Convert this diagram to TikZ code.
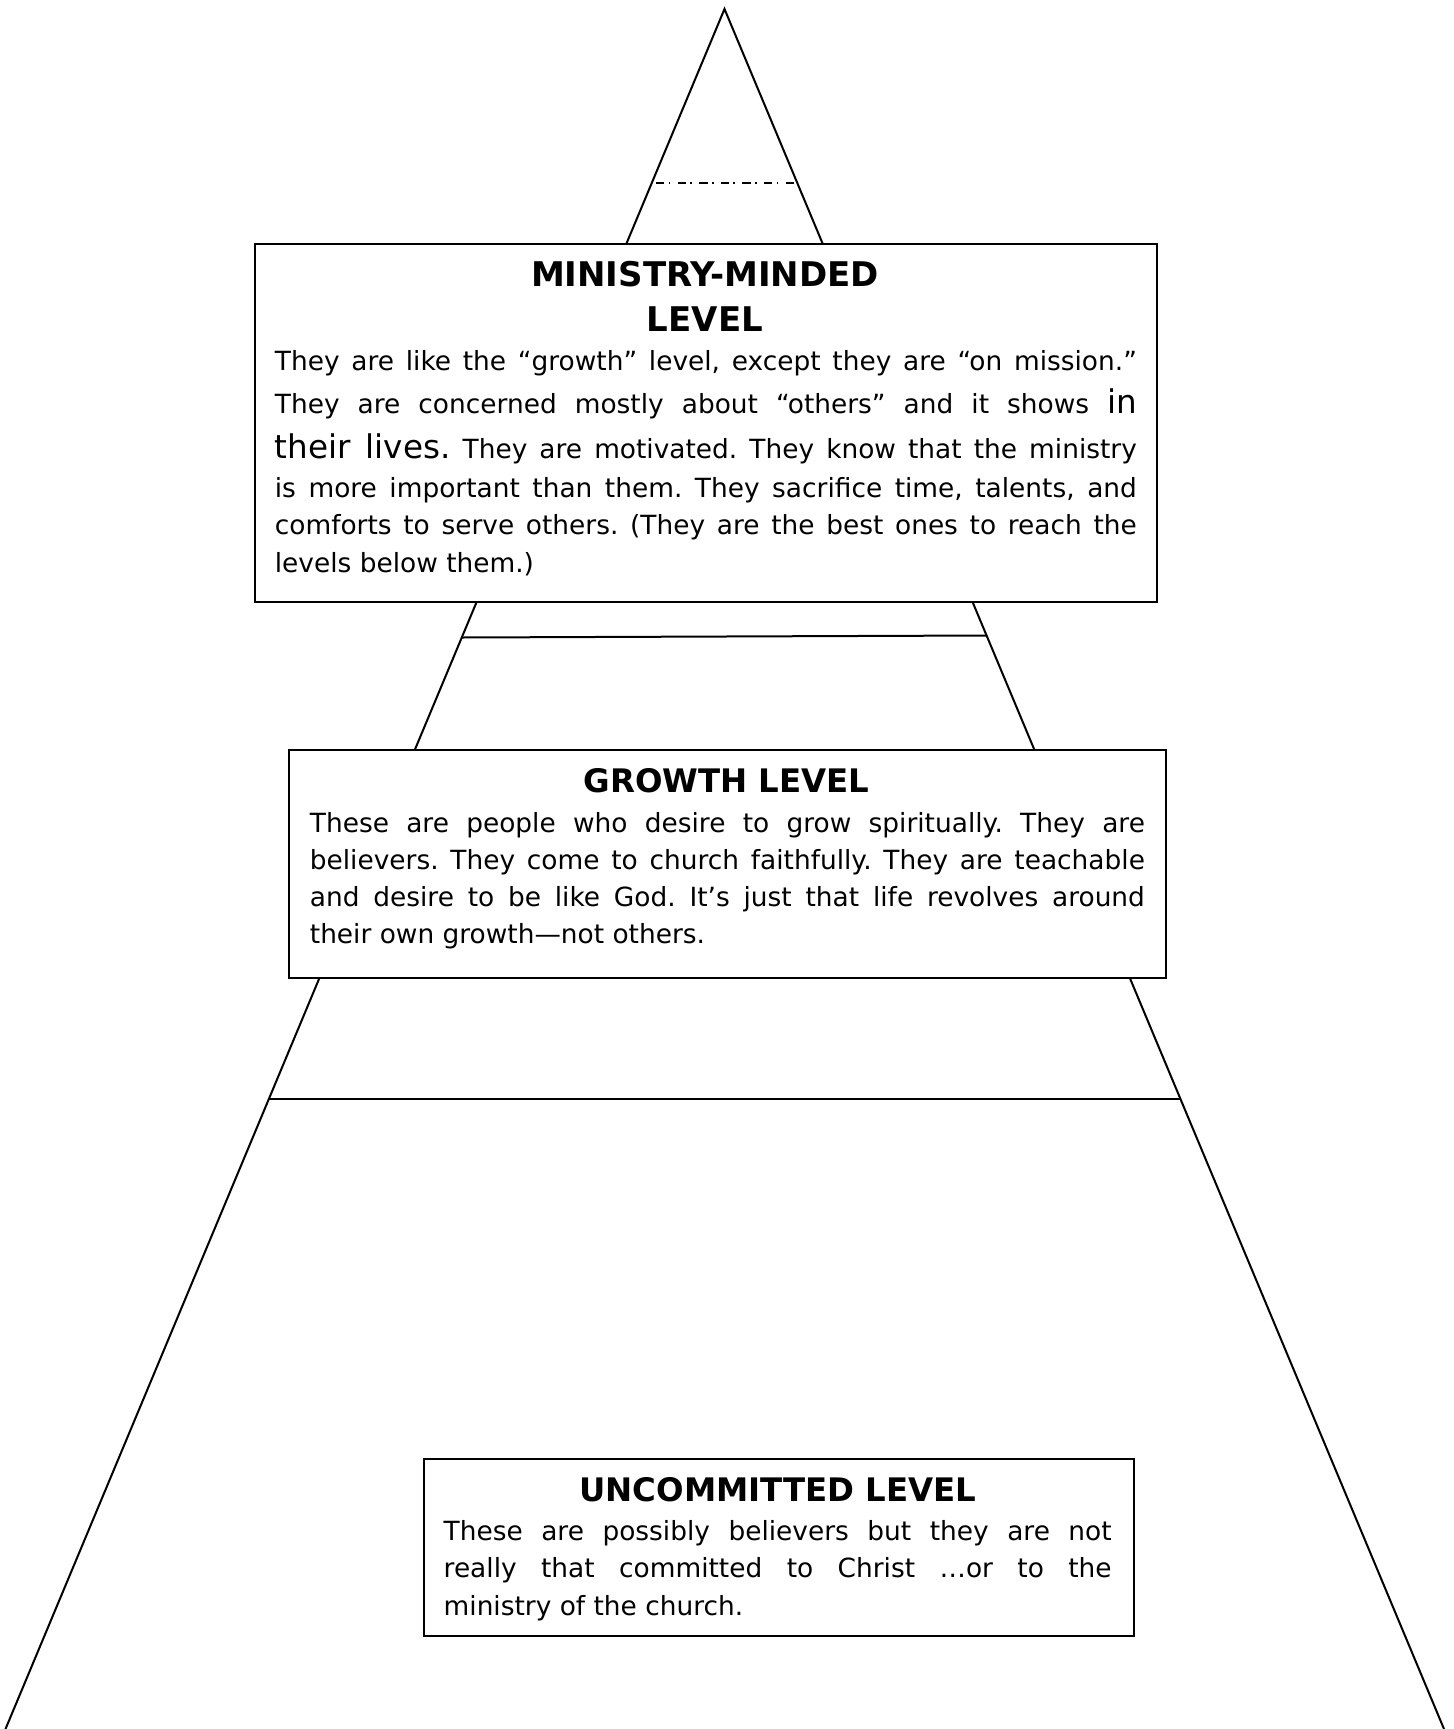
\documentclass[tikz,border=0pt]{standalone}
\usepackage{fontspec}
\setmainfont{DejaVu Sans}
\newcommand\lstrut[1]{\rule[-5pt]{0pt}{#1pt}}
\newcommand\bigtxt{\fontsize{16.3}{17}\selectfont}
\begin{document}
\frenchspacing
\begin{tikzpicture}[x=0.5pt,y=-0.5pt,
  edge/.style={line width=1pt},
  levelbox/.style={draw,line width=1pt,fill=white,inner sep=0pt,anchor=north west},
  boxtitle/.style={inner sep=0pt,anchor=base,align=center,font=\fontsize{16.2}{21.9}\selectfont\bfseries},
  boxbody/.style={inner sep=0pt,anchor=base west,align=justify,font=\fontsize{13.2}{17.2}\selectfont\frenchspacing},
]
\useasboundingbox (0,0) rectangle (1453,1729);
% pyramid outline
\coordinate (apex) at (724.5,9);
\coordinate (bl) at (5.5,1729);
\coordinate (br) at (1444,1729);
\draw[edge] (bl) -- (apex) -- (br);
% dash-dot line near the top
\coordinate (d1) at (656,183);
\coordinate (d2) at (794,183);
\draw[edge,dash pattern=on 4.15pt off 2.15pt on 0.85pt off 3.65pt] (d1) -- (d2);
% level dividers
\coordinate (h1l) at (462,637.5);
\coordinate (h1r) at (987,635.5);
\draw[edge] (h1l) -- (h1r);
\coordinate (h2l) at (269,1099);
\coordinate (h2r) at (1180.5,1099);
\draw[edge] (h2l) -- (h2r);

% Box 1
\node[levelbox,minimum width=451pt,minimum height=179pt] (box1) at (254,243) {};
\node[boxtitle,text width=431pt,font=\fontsize{17}{22.5}\selectfont\bfseries] (t1) at (705,286.7) {MINISTRY-MINDED\\LEVEL};
\node[boxbody,text width=431pt] (b1) at (274.5,370) {\setlength\baselineskip{0pt}\setlength\lineskip{0pt}\setlength\lineskiplimit{0pt}%
\lstrut{18}They are like the “growth” level, except they are “on mission.”\linebreak
\lstrut{20.55}They are concerned mostly about “others” and it shows {\bigtxt in}\linebreak
\lstrut{21.7}{\bigtxt their lives.} They are motivated. They know that the ministry\linebreak
\lstrut{18.35}is more important than them. They sacrifice time, talents, and\linebreak
\lstrut{17.75}comforts to serve others. (They are the best ones to reach the\linebreak
\lstrut{18.1}levels below them.)};

% Box 2
\node[levelbox,minimum width=438.5pt,minimum height=114pt] (box2) at (288,749) {};
\node[boxtitle,text width=417.5pt] (t2) at (726.5,792) {GROWTH LEVEL};
\node[boxbody,text width=417.5pt,font=\fontsize{13.2}{18.55}\selectfont\frenchspacing] (b2) at (309.5,832) {These are people who desire to grow spiritually. They are\linebreak
believers. They come to church faithfully. They are teachable\linebreak
and desire to be like God. It’s just that life revolves around\linebreak
their own growth—not others.};

% Box 3
\node[levelbox,minimum width=354.75pt,minimum height=88.75pt] (box3) at (423,1457.5) {};
\node[boxtitle,text width=334pt] (t3) at (777.7,1501.7) {UNCOMMITTED LEVEL};
\node[boxbody,text width=334pt,font=\fontsize{13.2}{18.75}\selectfont\frenchspacing] (b3) at (443.3,1540) {These are possibly believers but they are not\linebreak
really that committed to Christ …or to the\linebreak
ministry of the church.};
\end{tikzpicture}
\end{document}
